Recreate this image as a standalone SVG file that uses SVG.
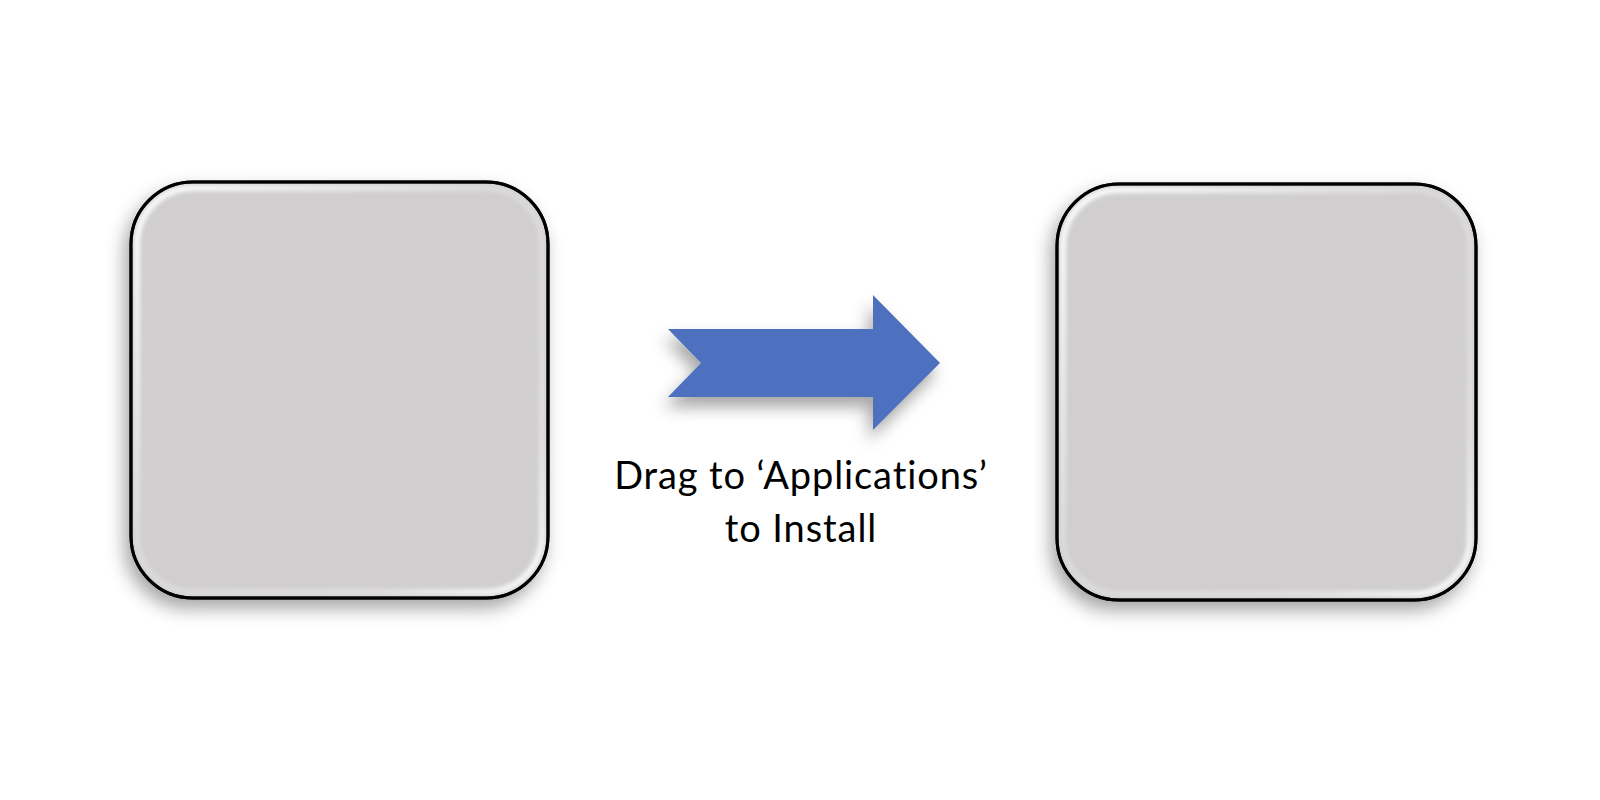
<svg xmlns="http://www.w3.org/2000/svg" width="1600" height="800" viewBox="0 0 1600 800">
  <style>
    .box { fill: #D0CECF; stroke: #000; stroke-width: 3; }
    .label { font-family: Lato, "Open Sans", "Liberation Sans", sans-serif; font-size: 38px; fill: #000; text-anchor: middle; letter-spacing: 0.9px; }
  </style>
  <defs>
    <filter id="shadow" x="-20%" y="-20%" width="140%" height="140%">
      <feDropShadow dx="-5" dy="9" stdDeviation="9" flood-color="#000" flood-opacity="0.35"/>
    </filter>
    <filter id="arrowShadow" x="-20%" y="-30%" width="140%" height="160%">
      <feDropShadow dx="-4" dy="10" stdDeviation="8" flood-color="#000" flood-opacity="0.35"/>
    </filter>
    <filter id="soft" x="-5%" y="-5%" width="110%" height="110%">
      <feGaussianBlur stdDeviation="2"/>
    </filter>
    <linearGradient id="gleamGrad" x1="0" y1="0" x2="1" y2="1">
      <stop offset="0" stop-color="#fff" stop-opacity="1"/>
      <stop offset="0.45" stop-color="#fff" stop-opacity="0.25"/>
      <stop offset="0.8" stop-color="#fff" stop-opacity="0.35"/>
      <stop offset="1" stop-color="#fff" stop-opacity="1"/>
    </linearGradient>
  </defs>

  <rect width="1600" height="800" fill="#FFFFFF"/>

  <g id="node-left">
    <rect class="box" x="131" y="182" width="417" height="416" rx="62" ry="62" filter="url(#shadow)"/>
    <rect x="137" y="188" width="405" height="404" rx="56" ry="56" fill="none" stroke="url(#gleamGrad)" stroke-width="6" filter="url(#soft)"/>
    <rect x="131" y="182" width="417" height="416" rx="62" ry="62" fill="none" stroke="#000" stroke-width="3"/>
  </g>

  <g id="node-right">
    <rect class="box" x="1057" y="184" width="419" height="416" rx="62" ry="62" filter="url(#shadow)"/>
    <rect x="1063" y="190" width="407" height="404" rx="56" ry="56" fill="none" stroke="url(#gleamGrad)" stroke-width="6" filter="url(#soft)"/>
    <rect x="1057" y="184" width="419" height="416" rx="62" ry="62" fill="none" stroke="#000" stroke-width="3"/>
  </g>

  <g id="connectors">
    <polygon points="668,329 873,329 873,295 940,363 873,430 873,397 668,397 701,363" fill="#4E71BE" filter="url(#arrowShadow)"/>
  </g>

  <g id="label">
    <text class="label" x="801" y="489">Drag to ‘Applications’</text>
    <text class="label" x="801" y="542">to Install</text>
  </g>
</svg>
